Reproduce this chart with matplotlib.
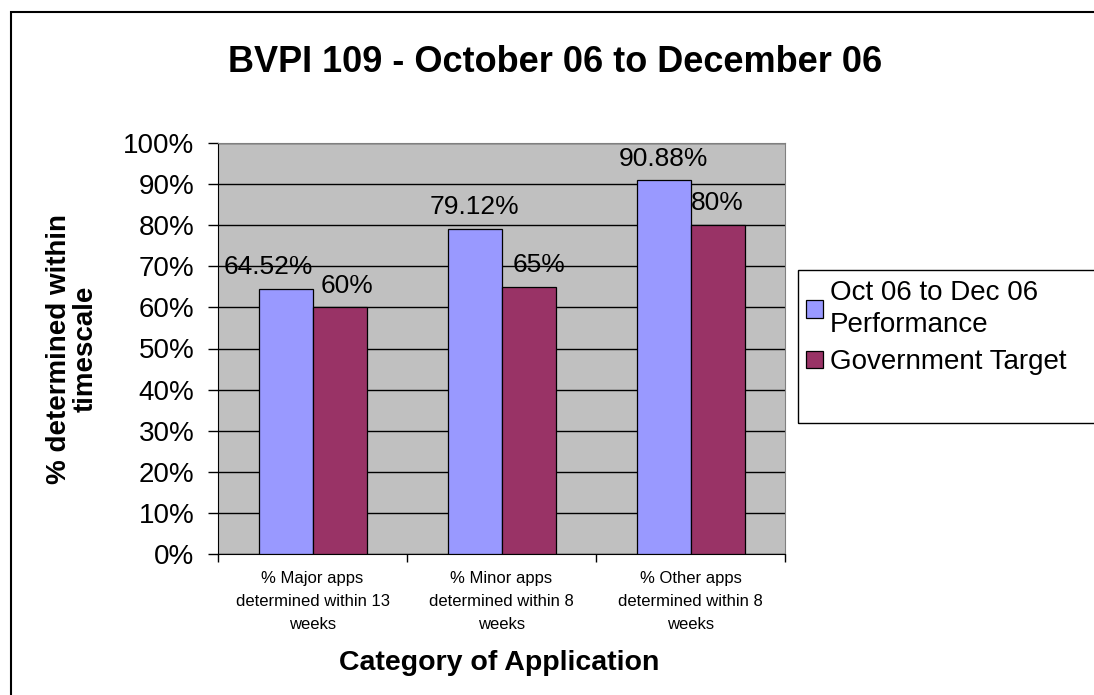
import numpy as np
import matplotlib
matplotlib.use("Agg")
import matplotlib.pyplot as plt
from matplotlib.patches import Rectangle

plt.rcParams['font.family'] = ['Liberation Sans', 'DejaVu Sans']

# data
categories = ["% Major apps\ndetermined within 13\nweeks",
              "% Minor apps\ndetermined within 8\nweeks",
              "% Other apps\ndetermined within 8\nweeks"]
performance = [64.52, 79.12, 90.88]
target = [60, 65, 80]
perf_labels = ["64.52%", "79.12%", "90.88%"]
target_labels = ["60%", "65%", "80%"]
series_names = ["Oct 06 to Dec 06\nPerformance", "Government Target"]
yticks = [0, 10, 20, 30, 40, 50, 60, 70, 80, 90, 100]

# small sideways nudges of the value labels (pixels), as in the original
perf_dx = [-17, 0, 0]
target_dx = [8, 11, 0]

W, H = 1094, 695
fig = plt.figure(figsize=(W / 100, H / 100), dpi=100)

# outer chart border (runs off right and bottom edges)
fig.patches.append(Rectangle((11 / W, -0.05), 1.1, 1 - 12 / H + 0.05,
                             transform=fig.transFigure, fill=False,
                             edgecolor='black', lw=1.5))

ax = fig.add_axes([218 / W, 1 - 554 / H, (785 - 218) / W, (554 - 143) / H])
ax.set_facecolor('#C0C0C0')

x = np.arange(len(categories))
bw = 1 / 3.5
b1 = ax.bar(x - bw / 2, performance, bw, color='#9999FF', edgecolor='black', lw=0.9, zorder=3)
b2 = ax.bar(x + bw / 2, target, bw, color='#993366', edgecolor='black', lw=0.9, zorder=3)

for bars, labs, dxs in [(b1, perf_labels, perf_dx), (b2, target_labels, target_dx)]:
    for rect, lab, dx in zip(bars, labs, dxs):
        ax.annotate(lab, (rect.get_x() + rect.get_width() / 2, rect.get_height()),
                    xytext=(dx * 0.72, 7), textcoords='offset points',
                    ha='center', va='bottom', fontsize=19, zorder=4)

ax.set_xlim(-0.5, 2.5)
ax.set_ylim(0, 100)
ax.set_yticks(yticks)
ax.set_yticklabels([f"{t}%" for t in yticks], fontsize=20)
ax.yaxis.grid(True, color='black', lw=1, zorder=1)
ax.set_axisbelow(True)

# category boundaries get tick marks, labels sit between them
ax.set_xticks([-0.5, 0.5, 1.5, 2.5])
ax.set_xticklabels([])
ax.set_xticks(x, minor=True)
ax.set_xticklabels(categories, minor=True, fontsize=12, linespacing=1.7)
ax.tick_params(axis='x', which='minor', length=0, pad=12)
ax.tick_params(axis='x', which='major', length=6, direction='out', width=1)
ax.tick_params(axis='y', length=7, direction='out', width=1, pad=10)

for s in ['top', 'right']:
    ax.spines[s].set_color('#808080')
for s in ['left', 'bottom']:
    ax.spines[s].set_color('black')

fig.text(499.5 / W, 1 - 670 / H, "Category of Application",
         ha='center', va='baseline', fontsize=20.5, fontweight='bold')
fig.text(72 / W, 1 - 348.5 / H, "% determined within\ntimescale", rotation=90,
         ha='center', va='center', fontsize=20, fontweight='bold', linespacing=1.05)
fig.text(555 / W, 1 - 72 / H, "BVPI 109 - October 06 to December 06",
         ha='center', va='baseline', fontsize=26, fontweight='bold')

# legend box
fig.patches.append(Rectangle((798 / W, 1 - 423 / H), 0.3, (423 - 270) / H,
                             transform=fig.transFigure, fill=False,
                             edgecolor='black', lw=1))
leg = fig.legend([b1, b2], series_names, loc='upper left',
                 bbox_to_anchor=(806 / W, 1 - 280 / H), frameon=False, fontsize=20,
                 handlelength=0.6, handleheight=0.6, handletextpad=0.25,
                 labelspacing=0.4, borderaxespad=0, borderpad=0)
for t in leg.get_texts():
    t.set_linespacing(1.3)

fig.savefig("out.png", dpi=100)
